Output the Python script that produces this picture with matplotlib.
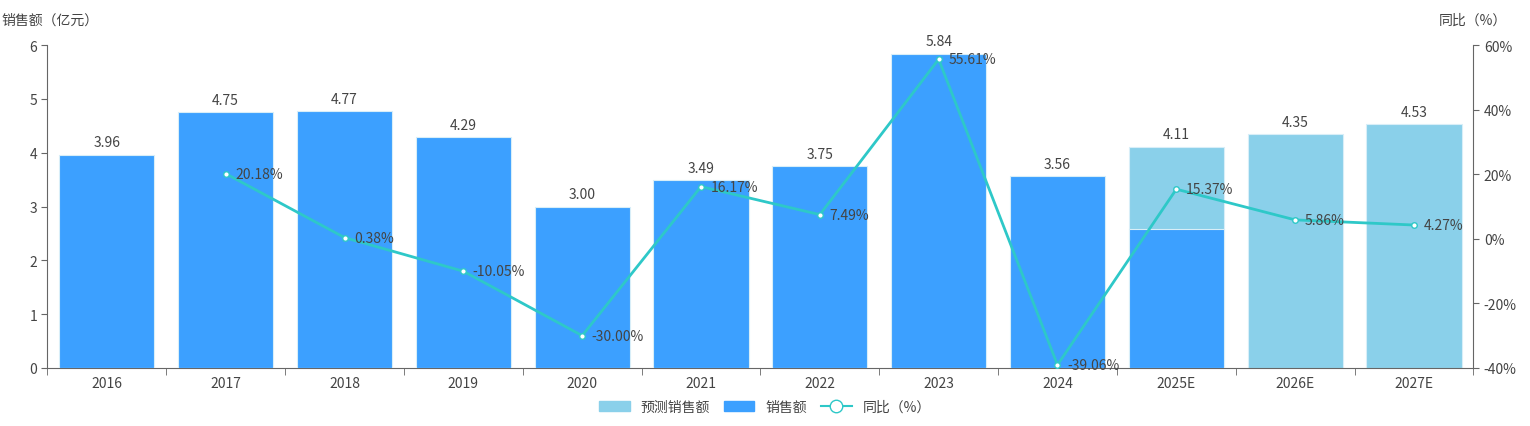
import matplotlib
matplotlib.use("Agg")
import matplotlib.pyplot as plt
import numpy as np

plt.rcParams['font.family'] = ['Noto Sans CJK SC', 'DejaVu Sans']

years = ['2016','2017','2018','2019','2020','2021','2022','2023','2024','2025E','2026E','2027E']
sales = [3.96,4.75,4.77,4.29,3.00,3.49,3.75,5.84,3.56,2.58,None,None]
forecast = [None]*9 + [4.11,4.35,4.53]
yoy = [None,20.18,0.38,-10.05,-30.00,16.17,7.49,55.61,-39.06,15.37,5.86,4.27]

fig = plt.figure(figsize=(15.3,4.27), dpi=100)
ax = fig.add_axes([0.031,0.136,0.932,0.756])
x = np.arange(len(years))
w = 0.8
light = '#8ad0ea'; dark = '#3ca0ff'; line = '#2ec8c8'; tc = '#444444'

for i in x:
    if forecast[i] is not None:
        ax.bar(i, forecast[i], w, color=light, edgecolor='#d8eef8', linewidth=0.8, zorder=2)
        ax.text(i, forecast[i]+0.1, f'{forecast[i]:.2f}', ha='center', va='bottom', fontsize=10, color=tc)
    if sales[i] is not None:
        ax.bar(i, sales[i], w, color=dark, edgecolor='#d8eef8', linewidth=0.8, zorder=3)
        if forecast[i] is None:
            ax.text(i, sales[i]+0.1, f'{sales[i]:.2f}', ha='center', va='bottom', fontsize=10, color=tc)

ax.set_xlim(-0.5, len(years)-0.5)
ax.set_ylim(0,6)
ax.set_yticks(range(7))
ax.set_xticks(x)
ax.set_xticklabels(years)
ax.set_xticks(np.arange(-0.5,len(years),1), minor=True)
ax.tick_params(axis='x', which='major', length=0, colors=tc, labelsize=10, pad=6)
ax.tick_params(axis='x', which='minor', length=5, color='#666666')
ax.tick_params(axis='y', colors=tc, labelsize=10, length=4, color='#666666')
for s in ['top','right']:
    ax.spines[s].set_visible(False)
ax.spines['left'].set_color('#666666'); ax.spines['bottom'].set_color('#666666')
fig.text(0.001, 0.935, '销售额（亿元）', fontsize=10, color=tc, va='bottom')

ax2 = ax.twinx()
ax2.set_ylim(-40,60)
ax2.set_yticks(range(-40,61,20))
ax2.set_yticklabels([f'{v}%' for v in range(-40,61,20)])
ax2.tick_params(axis='y', colors=tc, labelsize=10, length=4, color='#666666')
for s in ['top','left','bottom']:
    ax2.spines[s].set_visible(False)
ax2.spines['right'].set_color('#666666')
xs = [i for i in x if yoy[i] is not None]
ys = [yoy[i] for i in xs]
ax2.plot(xs, ys, color=line, lw=2, marker='o', ms=4, mfc='white', mec=line, zorder=5)
for xi, yi in zip(xs, ys):
    ax2.text(xi+0.08, yi, f'{yi:.2f}%', fontsize=10, color=tc, va='center', ha='left', zorder=6)
fig.text(0.985, 0.935, '同比（%）', fontsize=10, color=tc, va='bottom', ha='right')

from matplotlib.patches import Patch
from matplotlib.lines import Line2D
handles = [Patch(color=light), Patch(color=dark),
           Line2D([0],[0], color=line, lw=1.5, marker='o', ms=9, mfc='white', mec=line)]
fig.legend(handles, ['预测销售额','销售额','同比（%）'], loc='lower center', bbox_to_anchor=(0.5,0.0),
           ncol=3, frameon=False, fontsize=10, handlelength=2.2, columnspacing=1.0, labelcolor=tc)
fig.savefig('out.png', dpi=100)
